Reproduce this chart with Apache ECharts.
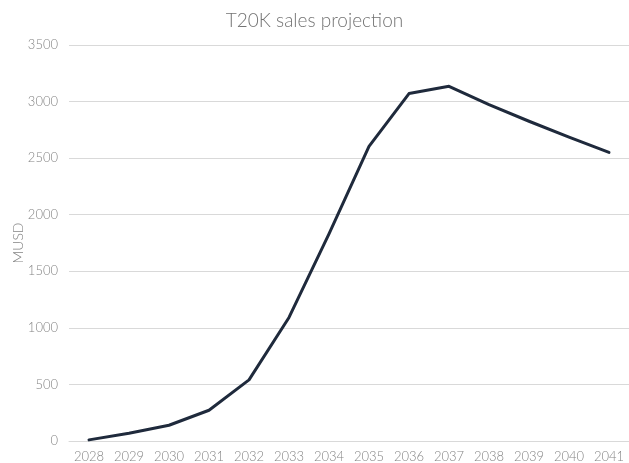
<!DOCTYPE html>
<html>
<head>
<meta charset="utf-8">
<script src="https://cdn.jsdelivr.net/npm/echarts@6/dist/echarts.min.js"></script>
<style>
  html, body { margin: 0; padding: 0; background: #fff; }
  #chart { width: 629px; height: 463px; }
</style>
</head>
<body>
<div id="chart"></div>
<script>
// Projected yearly sales of the T20K, in millions of USD
const years = ['2028', '2029', '2030', '2031', '2032', '2033', '2034',
               '2035', '2036', '2037', '2038', '2039', '2040', '2041'];
const salesMUSD = [10, 68, 139, 272, 540, 1092, 1830,
                   2604, 3071, 3135, 2973, 2826, 2686, 2551];
const yTicks = { min: 0, max: 3500, step: 500 };

const chart = echarts.init(document.getElementById('chart'), null, { renderer: 'canvas' });
chart.setOption({
  animation: false,
  backgroundColor: '#ffffff',
  textStyle: { fontFamily: 'Lato' },
  title: {
    text: 'T20K sales projection',
    left: 'center',
    top: 6,
    textStyle: { fontFamily: 'Lato', fontSize: 19, fontWeight: 300, color: '#737373' }
  },
  grid: { left: 69, width: 563, top: 45, bottom: 22, containLabel: false },
  xAxis: {
    type: 'category',
    data: years,
    boundaryGap: true,
    axisLine: { show: true, lineStyle: { color: '#d9d9d9', width: 1 } },
    axisTick: { show: false },
    axisLabel: { color: '#858585', fontSize: 13, margin: 9, fontFamily: 'Lato', fontWeight: 300 }
  },
  yAxis: {
    type: 'value',
    min: yTicks.min,
    max: yTicks.max,
    interval: yTicks.step,
    name: 'MUSD',
    nameLocation: 'middle',
    nameGap: 44,
    nameMoveOverlap: false,
    nameTextStyle: { color: '#858585', fontSize: 14, fontFamily: 'Lato', fontWeight: 300 },
    axisLine: { show: false },
    axisTick: { show: false },
    axisLabel: {
      color: '#858585', fontSize: 13, margin: 11, fontFamily: 'Lato', fontWeight: 300,
      formatter: (v) => String(v)
    },
    splitLine: { lineStyle: { color: '#d9d9d9', width: 1 } }
  },
  series: [{
    type: 'line',
    data: salesMUSD,
    symbol: 'none',
    lineStyle: { color: '#1f2a3c', width: 3, join: 'round', cap: 'round' }
  }]
});
</script>
</body>
</html>
